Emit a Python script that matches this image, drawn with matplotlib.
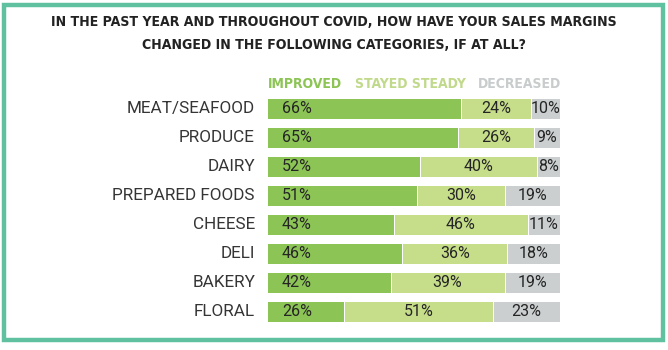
import matplotlib
matplotlib.use("Agg")
import matplotlib.pyplot as plt
from matplotlib.patches import Rectangle

categories = ["MEAT/SEAFOOD", "PRODUCE", "DAIRY", "PREPARED FOODS", "CHEESE", "DELI", "BAKERY", "FLORAL"]
improved = [66, 65, 52, 51, 43, 46, 42, 26]
steady = [24, 26, 40, 30, 46, 36, 39, 51]
decreased = [10, 9, 8, 19, 11, 18, 19, 23]
series_names = ["IMPROVED", "STAYED STEADY", "DECREASED"]
title_lines = ["IN THE PAST YEAR AND THROUGHOUT COVID, HOW HAVE YOUR SALES MARGINS",
               "CHANGED IN THE FOLLOWING CATEGORIES, IF AT ALL?"]

colors = ["#8cc455", "#c6dd8a", "#cbcfcf"]
legend_colors = ["#8cc455", "#c0d98a", "#c8cccc"]
text_color = "#252525"

W, H = 668, 350
fig = plt.figure(figsize=(W / 100, H / 100), dpi=100)
fig.patch.set_facecolor("white")

fig.add_artist(Rectangle((3.5 / W, 1 - 339.5 / H), 659 / W, 335 / H, transform=fig.transFigure,
                         fill=False, edgecolor="#5fc1a0", linewidth=3.2))

row = 29.0
top = 108.5 - row / 2
n = len(categories)
ax = fig.add_axes([268 / W, 1 - (top + n * row) / H, 292 / W, n * row / H])
ax.set_xlim(0, 100)
ax.set_ylim(n - 0.5, -0.5)
ax.axis("off")

bh = 20 / row
gap = 0.35
for i in range(n):
    vals = [improved[i], steady[i], decreased[i]]
    left = 0
    for j, v in enumerate(vals):
        l = left + (gap if j > 0 else 0)
        w = v - (gap if j > 0 else 0)
        ax.barh(i, w, left=l, height=bh, color=colors[j], linewidth=0)
        label = f"{v}%"
        if j == 0:
            ax.text(left + 4.8, i, label, ha="left", va="center", fontsize=11.5,
                    color=text_color, family="Roboto")
        else:
            ax.text(left + v / 2, i, label, ha="center", va="center", fontsize=11.5,
                    color=text_color, family="Roboto")
        left += v
    fig.text(255 / W, 1 - (108.5 + i * row) / H, categories[i], ha="right", va="center",
             fontsize=12.3, color="#353535", family="Roboto")

leg_x = [268, 355, 478]
for name, x, c in zip(series_names, leg_x, legend_colors):
    fig.text(x / W, 1 - 84 / H, name, ha="left", va="center", fontsize=10,
             fontweight="bold", color=c, family="DejaVu Sans", fontstretch="condensed")

for k, y in enumerate([22, 45]):
    fig.text(0.5, 1 - y / H, title_lines[k], ha="center", va="center", fontsize=10.1,
             fontweight="bold", color="#222222", family="DejaVu Sans", fontstretch="condensed")

fig.savefig("out.png", dpi=100, facecolor="white")
